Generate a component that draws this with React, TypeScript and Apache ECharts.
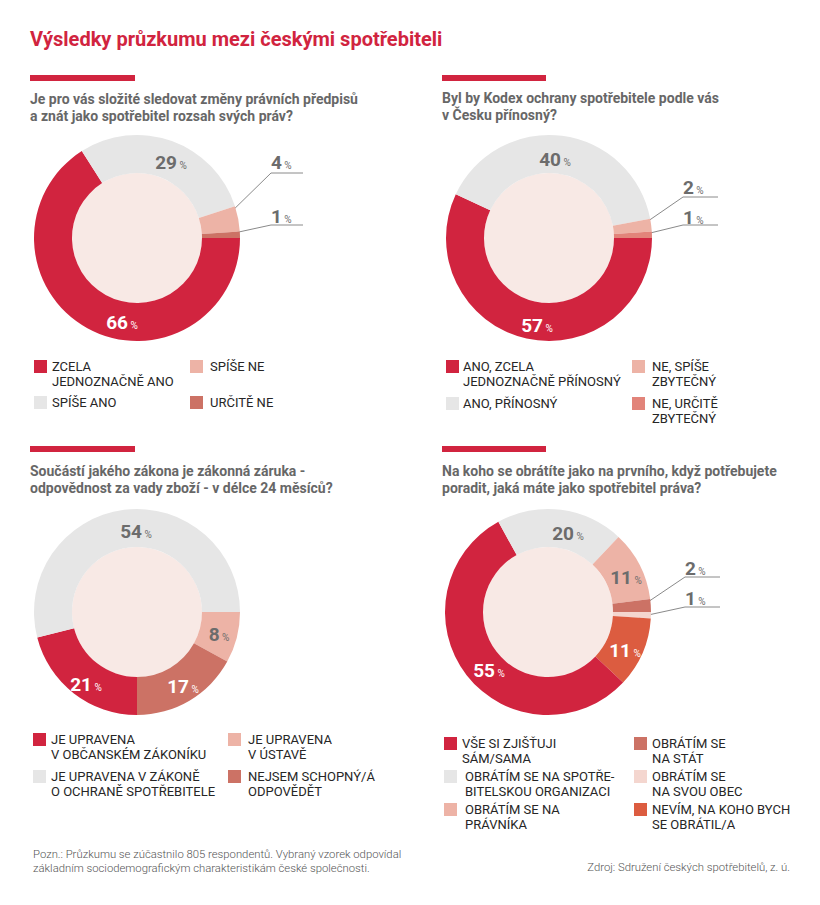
import React, { useEffect, useRef } from 'react';
import * as echarts from 'echarts';

// ---------- DATA ----------
const titleText = 'Výsledky průzkumu mezi českými spotřebiteli';

const q1Question = 'Je pro vás složité sledovat změny právních předpisů\na znát jako spotřebitel rozsah svých práv?';
const q1Categories = ['ZCELA\nJEDNOZNAČNĚ ANO', 'SPÍŠE ANO', 'SPÍŠE NE', 'URČITĚ NE'];
const q1Values = [66, 29, 4, 1];

const q2Question = 'Byl by Kodex ochrany spotřebitele podle vás\nv Česku přínosný?';
const q2Categories = ['ANO, ZCELA\nJEDNOZNAČNĚ PŘÍNOSNÝ', 'ANO, PŘÍNOSNÝ', 'NE, SPÍŠE\nZBYTEČNÝ', 'NE, URČITĚ\nZBYTEČNÝ'];
const q2Values = [57, 40, 2, 1];

const q3Question = 'Součástí jakého zákona je zákonná záruka -\nodpovědnost za vady zboží - v délce 24 měsíců?';
const q3Categories = ['JE UPRAVENA\nV ÚSTAVĚ', 'NEJSEM SCHOPNÝ/Á\nODPOVĚDĚT', 'JE UPRAVENA\nV OBČANSKÉM ZÁKONÍKU', 'JE UPRAVENA V ZÁKONĚ\nO OCHRANĚ SPOTŘEBITELE'];
const q3Values = [8, 17, 21, 54];

const q4Question = 'Na koho se obrátíte jako na prvního, když potřebujete\nporadit, jaká máte jako spotřebitel práva?';
const q4Categories = ['OBRÁTÍM SE\nNA SVOU OBEC', 'NEVÍM, NA KOHO BYCH\nSE OBRÁTIL/A', 'VŠE SI ZJIŠŤUJI\nSÁM/SAMA', 'OBRÁTÍM SE NA SPOTŘE-\nBITELSKOU ORGANIZACI', 'OBRÁTÍM SE NA\nPRÁVNÍKA', 'OBRÁTÍM SE\nNA STÁT'];
const q4Values = [1, 11, 55, 20, 11, 2];

const footNote = 'Pozn.: Průzkumu se zúčastnilo 805 respondentů. Vybraný vzorek odpovídal\nzákladním sociodemografickým charakteristikám české společnosti.';
const sourceText = 'Zdroj: Sdružení českých spotřebitelů, z. ú.';

// ---------- STYLE ----------
const FONT = 'Roboto, "Noto Sans", sans-serif';
const RED = '#D1243F';
const GREY = '#E6E6E6';
const PINK = '#EDB3A6';
const SALMON = '#CC7265';
const SALMON2 = '#E2847A';
const BLUSH = '#F4D6CF';
const ORANGE = '#DC5C40';
const INNER = '#F8E9E5';
const LABEL_GREY = '#6c6c6c';
const Q_GREY = '#676767';
const LEGEND_TEXT = '#262626';
const LINE_GREY = '#8a8a8a';

type LabelPos = { x: number; y: number; align?: string; line?: number[][]; dark?: boolean };
type LegendSlot = { idx: number; sx: number; sy: number; tx: number };

const charts = [
  {
    question: q1Question, cats: q1Categories, values: q1Values,
    colors: [RED, GREY, PINK, SALMON],
    center: [137, 238], bar: [30, 75, 105, 6], qx: 30, qy: 90.5,
    labels: [
      { x: 122, y: 322, dark: true },
      { x: 171, y: 162 },
      { x: 271, y: 162, align: 'left', line: [[224, 219], [271, 173], [303, 173]] },
      { x: 271, y: 216, align: 'left', line: [[225, 235], [271, 225], [303, 225]] },
    ] as LabelPos[],
    legend: [
      { idx: 0, sx: 34, sy: 360, tx: 52 },
      { idx: 1, sx: 34, sy: 396, tx: 52 },
      { idx: 2, sx: 190, sy: 360, tx: 210 },
      { idx: 3, sx: 190, sy: 396, tx: 210 },
    ] as LegendSlot[],
    lh: 15,
  },
  {
    question: q2Question, cats: q2Categories, values: q2Values,
    colors: [RED, GREY, PINK, SALMON2],
    center: [549, 238], bar: [442, 75, 104, 6], qx: 442, qy: 89.5,
    labels: [
      { x: 537, y: 325, dark: true },
      { x: 555, y: 159 },
      { x: 683, y: 187, align: 'left', line: [[638, 228], [683, 197], [718, 197]] },
      { x: 683, y: 217, align: 'left', line: [[638, 236], [683, 225], [718, 225]] },
    ] as LabelPos[],
    legend: [
      { idx: 0, sx: 446, sy: 360, tx: 463 },
      { idx: 1, sx: 446, sy: 397, tx: 463 },
      { idx: 2, sx: 632, sy: 360, tx: 652 },
      { idx: 3, sx: 632, sy: 397, tx: 652 },
    ] as LegendSlot[],
    lh: 15,
  },
  {
    question: q3Question, cats: q3Categories, values: q3Values,
    colors: [PINK, SALMON, RED, GREY],
    center: [137, 612], bar: [30, 446, 105, 6], qx: 30, qy: 462.5,
    labels: [
      { x: 219, y: 634 },
      { x: 183, y: 686, dark: true },
      { x: 86, y: 684, dark: true },
      { x: 136, y: 531 },
    ] as LabelPos[],
    legend: [
      { idx: 2, sx: 33, sy: 733, tx: 51 },
      { idx: 3, sx: 33, sy: 770, tx: 51 },
      { idx: 0, sx: 228, sy: 733, tx: 248 },
      { idx: 1, sx: 228, sy: 770, tx: 248 },
    ] as LegendSlot[],
    lh: 14.5,
  },
  {
    question: q4Question, cats: q4Categories, values: q4Values,
    colors: [BLUSH, ORANGE, RED, GREY, PINK, SALMON],
    center: [548, 612], bar: [442, 446, 104, 6], qx: 442, qy: 462.5,
    labels: [
      { x: 685, y: 598, align: 'left', line: [[639, 617], [685, 607], [720, 607]] },
      { x: 625, y: 650, dark: true },
      { x: 489, y: 670, dark: true },
      { x: 568, y: 533 },
      { x: 626, y: 577 },
      { x: 685, y: 568, align: 'left', line: [[639, 608], [685, 577], [720, 577]] },
    ] as LabelPos[],
    legend: [
      { idx: 2, sx: 444, sy: 737, tx: 462 },
      { idx: 3, sx: 444, sy: 770, tx: 465 },
      { idx: 4, sx: 444, sy: 803, tx: 465 },
      { idx: 5, sx: 634, sy: 737, tx: 652 },
      { idx: 0, sx: 634, sy: 770, tx: 652 },
      { idx: 1, sx: 634, sy: 803, tx: 652 },
    ] as LegendSlot[],
    lh: 15,
  },
];

const R_IN = 65;
const R_OUT = 103;

function labelStyle(color: string, position: string) {
  return {
    show: true,
    position,
    formatter: '{n|{c}}{p| %}',
    rich: {
      n: { fontSize: 19, fontWeight: 'bold', fontFamily: FONT, color },
      p: { fontSize: 10, fontFamily: FONT, color, verticalAlign: 'bottom', padding: [0, 0, 1, 0] },
    },
  };
}

function buildOption() {
  const graphic: any[] = [];
  graphic.push({
    type: 'text', x: 30, y: 38.5,
    style: {
      text: titleText, fill: RED, font: `bold 20px ${FONT}`,
      align: 'left', verticalAlign: 'middle', textAlign: 'left', textVerticalAlign: 'middle',
    },
  });

  const series: any[] = [];
  charts.forEach((c) => {
    graphic.push({
      type: 'rect', shape: { x: c.bar[0], y: c.bar[1], width: c.bar[2], height: c.bar[3] },
      style: { fill: RED },
    });
    graphic.push({
      type: 'text', x: c.qx, y: c.qy,
      style: {
        text: c.question, fill: Q_GREY, font: `bold 14px ${FONT}`, lineHeight: 17,
        align: 'left', verticalAlign: 'top', textAlign: 'left', textVerticalAlign: 'top',
      },
    });
    graphic.push({
      type: 'circle', shape: { cx: c.center[0], cy: c.center[1], r: R_IN },
      style: { fill: INNER },
    });
    c.legend.forEach((l) => {
      graphic.push({
        type: 'rect', shape: { x: l.sx, y: l.sy, width: 13, height: 13 },
        style: { fill: c.colors[l.idx] },
      });
      graphic.push({
        type: 'text', x: l.tx, y: l.sy + 6.5 - c.lh / 2,
        style: {
          text: c.cats[l.idx], fill: LEGEND_TEXT, font: `13px ${FONT}`, lineHeight: c.lh,
          align: 'left', verticalAlign: 'top', textAlign: 'left', textVerticalAlign: 'top',
        },
      });
    });

    const labels = c.labels;
    series.push({
      type: 'pie',
      center: c.center,
      radius: [R_IN, R_OUT],
      startAngle: 0,
      clockwise: true,
      silent: true,
      avoidLabelOverlap: false,
      labelLine: { show: false },
      data: c.values.map((v, i) => {
        const lp = labels[i];
        const outside = !!lp.line;
        return {
          value: v,
          name: c.cats[i].replace('\n', ' '),
          itemStyle: { color: c.colors[i] },
          label: labelStyle(lp.dark ? '#ffffff' : LABEL_GREY, outside ? 'outside' : 'inside'),
          labelLine: outside
            ? { show: true, length: 10, length2: 10, lineStyle: { color: LINE_GREY, width: 1 } }
            : { show: false },
        };
      }),
      labelLayout: (params: any) => {
        const lp = labels[params.dataIndex];
        const o: any = { x: lp.x, y: lp.y, align: lp.align || 'center', verticalAlign: 'middle' };
        if (lp.line) o.labelLinePoints = lp.line;
        return o;
      },
    });
  });

  graphic.push({
    type: 'text', x: 33, y: 848,
    style: {
      text: footNote, fill: '#555555', font: `300 11.3px ${FONT}`, lineHeight: 13.5,
      align: 'left', verticalAlign: 'top', textAlign: 'left', textVerticalAlign: 'top',
    },
  });
  graphic.push({
    type: 'text', x: 790, y: 867,
    style: {
      text: sourceText, fill: '#555555', font: `300 11.3px ${FONT}`,
      align: 'right', verticalAlign: 'middle', textAlign: 'right', textVerticalAlign: 'middle',
    },
  });

  return {
    animation: false,
    backgroundColor: '#ffffff',
    graphic,
    series,
  };
}

export default function App() {
  const ref = useRef<HTMLDivElement>(null);
  useEffect(() => {
    if (!ref.current) return;
    const chart = echarts.init(ref.current, undefined, { renderer: 'svg' });
    chart.setOption(buildOption() as any);
    return () => chart.dispose();
  }, []);
  return (
    <div
      ref={ref}
      style={{ position: 'absolute', left: 0, top: 0, width: 820, height: 905, background: '#fff' }}
    />
  );
}
